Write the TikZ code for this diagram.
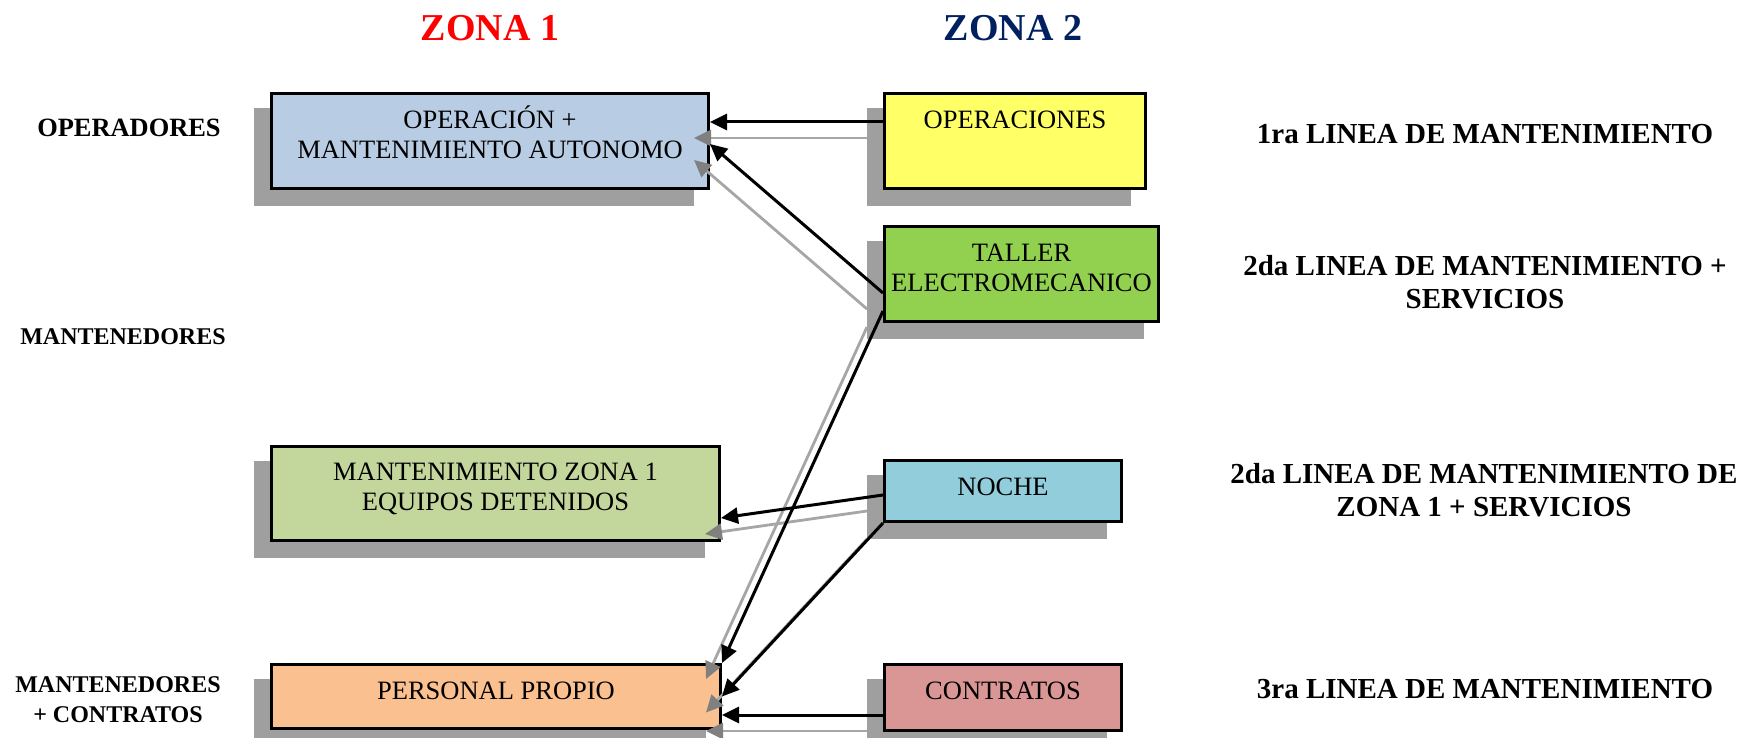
\documentclass[tikz,border=0pt]{standalone}
\usepackage{fontspec}
\setmainfont{Liberation Serif}
\usetikzlibrary{arrows.meta,calc}
\pgfdeclarelayer{background}
\pgfsetlayers{background,main}

\definecolor{opblue}{HTML}{B8CCE4}
\definecolor{opyellow}{HTML}{FFFF66}
\definecolor{tallergreen}{HTML}{92D050}
\definecolor{mantgreen}{HTML}{C3D69B}
\definecolor{nochecyan}{HTML}{92CDDC}
\definecolor{contrred}{HTML}{D99694}
\definecolor{persorange}{HTML}{FAC090}
\definecolor{shadowgray}{HTML}{9F9F9F}
\definecolor{linegray}{HTML}{A6A6A6}
\definecolor{headgray}{HTML}{808080}
\definecolor{zonared}{HTML}{FF0000}
\definecolor{zonablue}{HTML}{002060}

% stacked lines whose baseline is the first line
\newcommand\cellstack[1]{\begin{tabular}[t]{@{}c@{}}#1\end{tabular}}

\begin{document}
\begin{tikzpicture}[x=0.5pt,y=-0.5pt,
  box/.style={draw=black, line width=1.5pt, rectangle, inner sep=0pt, anchor=north west},
  boxtext/.style={font=\fontsize{13.25}{15.3}\selectfont, inner sep=0pt, anchor=base},
  zonatitle/.style={font=\fontsize{19}{22}\selectfont\bfseries, inner sep=0pt, anchor=base},
  rolelabel/.style={font=\fontsize{12}{15}\selectfont\bfseries, inner sep=0pt, anchor=base},
  linelabel/.style={font=\fontsize{14.5}{16.6}\selectfont\bfseries, inner sep=0pt, anchor=base},
  link/.style={draw=black, line width=1.5pt, -{Triangle[length=8.5pt,width=8pt]}},
  linkshadow/.style={draw=linegray, line width=1.4pt, -{Triangle[length=8.5pt,width=8pt,color=headgray,fill=headgray]}}
]
\useasboundingbox (0,0) rectangle (1756,738);

% column titles
\node[zonatitle, text=zonared]  (z1) at (490,41)  {ZONA 1};
\node[zonatitle, text=zonablue] (z2) at (1013,41) {ZONA 2};

% role labels on the left
\node[font=\fontsize{13.2}{15}\selectfont\bfseries, inner sep=0pt, anchor=base] (roleop) at (129,137) {OPERADORES};
\node[rolelabel] (rolemant) at (123,344) {MANTENEDORES};
\node[rolelabel] (rolecon) at (118,692) {\cellstack{MANTENEDORES\\+ CONTRATOS}};

% maintenance lines on the right
\node[linelabel] (l1) at (1485,144) {1ra LINEA DE MANTENIMIENTO};
\node[linelabel] (l2) at (1485,275) {\cellstack{2da LINEA DE MANTENIMIENTO +\\SERVICIOS}};
\node[linelabel] (l3) at (1484,483) {\cellstack{2da LINEA DE MANTENIMIENTO DE\\ZONA 1 + SERVICIOS}};
\node[linelabel] (l4) at (1485,698) {3ra LINEA DE MANTENIMIENTO};

% boxes
\node[box, fill=opblue,      minimum width=218.5pt, minimum height=47.5pt] (op)   at (270,92)  {};
\node[box, fill=opyellow,    minimum width=130.5pt, minimum height=47.5pt] (opc)  at (883,92)  {};
\node[box, fill=tallergreen, minimum width=137pt,   minimum height=47.5pt] (tal)  at (883,225) {};
\node[box, fill=mantgreen,   minimum width=224pt,   minimum height=47pt]   (mant) at (270,445) {};
\node[box, fill=nochecyan,   minimum width=118.5pt, minimum height=30.5pt] (noc)  at (883,459) {};
\node[box, fill=persorange,  minimum width=224.5pt, minimum height=32pt]   (per)  at (270,663) {};
\node[box, fill=contrred,    minimum width=118.5pt, minimum height=33pt]   (con)  at (883,663) {};

% box texts, set from the top of each box
\node[boxtext] (topop)   at ($(op.north)+(0,36)$)   {\cellstack{OPERACIÓN +\\MANTENIMIENTO AUTONOMO}};
\node[boxtext] (topopc)  at ($(opc.north)+(0,36)$)  {OPERACIONES};
\node[boxtext] (ttal)    at ($(tal.north)+(0,36)$)  {\cellstack{TALLER\\ELECTROMECANICO}};
\node[boxtext] (tmant)   at ($(mant.north)+(0,35)$) {\cellstack{MANTENIMIENTO ZONA 1\\EQUIPOS DETENIDOS}};
\node[boxtext] (tnoc)    at ($(noc.north)+(0,36)$)  {NOCHE};
\node[boxtext] (tper)    at ($(per.north)+(0,36)$)  {PERSONAL PROPIO};
\node[boxtext] (tcon)    at ($(con.north)+(0,36)$)  {CONTRATOS};

% drop shadows of the boxes
\begin{pgfonlayer}{background}
\foreach \n in {op,opc,tal,mant,noc,per,con}
  \fill[shadowgray] ($(\n.north west)+(-16,16)$) rectangle ($(\n.south east)+(-16,16)$);
\end{pgfonlayer}

% connector end points
\coordinate (c1s) at ($(opc.north west)+(0,30)$);
\coordinate (c1t) at (op.north east |- c1s);
\coordinate (c2s) at ($(tal.south west)+(0,-30)$);
\coordinate (c2t) at ($(op.north east)+(0,52)$);
\coordinate (c3s) at ($(tal.south west)+(0,-12)$);
\coordinate (c3t) at (per.north east);
\coordinate (c4s) at ($(noc.north west)+(0,36)$);
\coordinate (c4t) at ($(mant.north east)+(0,73)$);
\coordinate (c5s) at (noc.south west);
\coordinate (c5t) at (per.east);
\coordinate (c6s) at ($(con.north west)+(0,52)$);
\coordinate (c6t) at (per.east |- c6s);

% connector shadows
\foreach \k in {1,...,6}
  \draw[linkshadow] ($(c\k s)+(-16,16)$) -- ($(c\k t)+(-16,16)$);

% connectors
\foreach \k in {1,...,6}
  \draw[link] (c\k s) -- (c\k t);
\end{tikzpicture}
\end{document}
